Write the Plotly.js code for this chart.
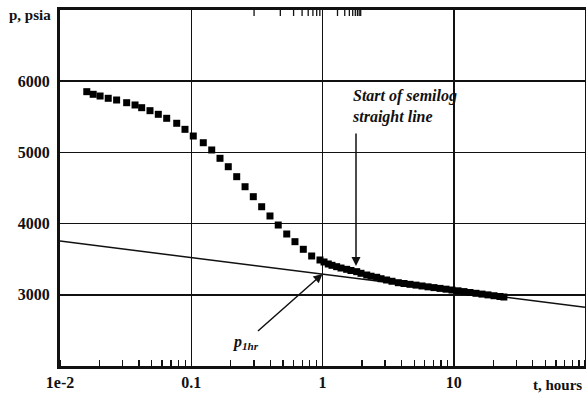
<!DOCTYPE html>
<html>
<head>
<meta charset="utf-8">
<script src="https://cdn.plot.ly/plotly-3.0.1.min.js"></script>
<style>html,body{margin:0;padding:0;background:#fff;}#chart{width:586px;height:398px;}</style>
</head>
<body>
<div id="chart"></div>
<script>
// Build-up test data: shut-in time (hours) vs pressure (psia)
const timeHours = [0.0160, 0.0179, 0.0202, 0.0233, 0.0270, 0.0322, 0.0373, 0.0419, 0.0485, 0.0561,
  0.0650, 0.0775, 0.0896, 0.1036, 0.1235, 0.1432, 0.1656, 0.1915, 0.222, 0.257,
  0.297, 0.344, 0.398, 0.460, 0.534, 0.617, 0.714, 0.827, 0.957, 1.027,
  1.107, 1.181, 1.282, 1.384, 1.528, 1.648, 1.822, 1.965, 2.173, 2.342,
  2.588, 2.791, 3.08, 3.385, 3.78, 4.18, 4.64, 5.16,
  5.73, 6.37, 7.07, 7.86, 8.73, 9.70, 10.78, 11.97, 13.30, 14.77,
  16.41, 18.23, 20.26, 22.5, 24.1];
const pressurePsia = [5853, 5816, 5792, 5760, 5736, 5698, 5666, 5628, 5586, 5535,
  5479, 5409, 5324, 5230, 5136, 5034, 4917, 4799, 4659, 4518,
  4378, 4237, 4107, 3980, 3854, 3746, 3639, 3545, 3489, 3461,
  3433, 3414, 3395, 3376, 3358, 3341, 3325, 3302, 3278, 3261,
  3246, 3226, 3208, 3190, 3170, 3159, 3147, 3136,
  3124, 3112, 3101, 3090, 3079, 3067, 3056, 3045, 3032, 3021,
  3010, 2999, 2987, 2976, 2969];
// Semilog straight line (end points)
const lineTime = [0.01, 100];
const linePressure = [3755, 2825];
// Axis ticks
const xTickVals = [0.01, 0.1, 1, 10];
const xTickText = ['1e-2', '0.1', '1', '10'];
const yTickVals = [3000, 4000, 5000, 6000];
const yTickText = ['3000', '4000', '5000', '6000'];
const decades = [0.01, 0.1, 1, 10];
const minorMultipliers = [2, 3, 4, 5, 6, 7, 8, 9];
const minorTickVals = [];
decades.forEach(d => minorMultipliers.forEach(m => minorTickVals.push(d * m)));
// Annotation anchors
const p1hrTime = 1, p1hrPressure = 3292;
const startTime = 1.80, startPressure = 3404;

const fam = '"Liberation Serif", serif';
const tickFont = {family: fam, size: 16, color: '#111', weight: 'bold'};
const labelFont = {family: fam, size: 15, color: '#111', weight: 'bold'};
const noteFont = {family: fam, size: 16, color: '#111', weight: 'bold'};

const traces = [
  {x: lineTime, y: linePressure, type: 'scatter', mode: 'lines',
   line: {color: '#111', width: 1.5}, hoverinfo: 'skip'},
  {x: timeHours, y: pressurePsia, type: 'scatter', mode: 'markers',
   marker: {symbol: 'square', size: 7, color: '#000'}}
];

// top-edge minor tick marks (mirror of the bottom minor ticks)
const topTicks = minorTickVals.map(v => ({
  type: 'line', xref: 'x', yref: 'paper',
  x0: Math.log10(v), x1: Math.log10(v), y0: 1, y1: 1 - 6 / 356,
  line: {color: '#111', width: 1.3}
}));

const layout = {
  width: 586, height: 398,
  margin: {l: 60, r: 1, t: 10, b: 32},
  paper_bgcolor: '#fff', plot_bgcolor: '#fff',
  showlegend: false,
  font: {family: fam, color: '#111'},
  xaxis: {
    type: 'log', range: [-2, 2],
    tickvals: xTickVals, ticktext: xTickText,
    tickfont: tickFont,
    showgrid: true, gridcolor: '#111', gridwidth: 1.5,
    showline: true, linecolor: '#111', linewidth: 3, mirror: true,
    ticks: '', zeroline: false,
    minor: {dtick: 'D1', ticks: 'inside', ticklen: 6, tickwidth: 1.3, tickcolor: '#111', showgrid: false}
  },
  yaxis: {
    range: [2000, 7000],
    tickvals: yTickVals, ticktext: yTickText,
    tickfont: tickFont,
    showgrid: true, gridcolor: '#111', gridwidth: 1.5,
    showline: true, linecolor: '#111', linewidth: 3, mirror: true,
    ticks: '', zeroline: false, ticklabelstandoff: 4
  },
  shapes: topTicks,
  annotations: [
    {xref: 'paper', yref: 'paper', x: -0.013, y: 0.986, xanchor: 'right', yanchor: 'middle',
     text: 'p, psia', showarrow: false, font: labelFont},
    {xref: 'paper', yref: 'paper', x: 0.897, y: -0.053, xanchor: 'left', yanchor: 'middle',
     text: 't, hours', showarrow: false, font: labelFont},
    {xref: 'x', yref: 'y', x: Math.log10(startTime), y: startPressure,
     text: '', showarrow: true, ax: 0, ay: -134, arrowhead: 2, arrowsize: 1.2, arrowwidth: 1.5, arrowcolor: '#111'},
    {xref: 'paper', yref: 'paper', x: 0.552, y: 0.73, xanchor: 'left', yanchor: 'middle', align: 'left',
     text: '<i>Start of semilog<br>straight line</i>', showarrow: false, font: noteFont},
    {xref: 'x', yref: 'y', x: Math.log10(p1hrTime), y: p1hrPressure,
     text: '<i>p<sub>1hr</sub></i>', font: noteFont,
     showarrow: true, ax: -77, ay: 68, arrowhead: 2, arrowsize: 1.2, arrowwidth: 1.5, arrowcolor: '#111'}
  ]
};

Plotly.newPlot('chart', traces, layout, {displayModeBar: false, staticPlot: true});
</script>
</body>
</html>
